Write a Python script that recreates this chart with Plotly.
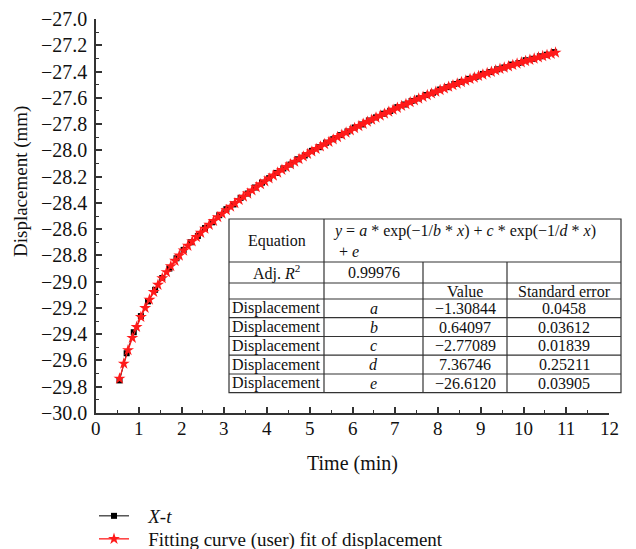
import plotly.graph_objects as go

# ---------------- data ----------------
t_data = [0.55, 0.717, 0.883, 1.05, 1.217, 1.383, 1.55, 1.717, 1.883, 2.05,
          2.217, 2.383, 2.55, 2.717, 2.883, 3.05, 3.217, 3.383, 3.55, 3.717,
          3.883, 4.05, 4.217, 4.383, 4.55, 4.717, 4.883, 5.05, 5.217, 5.383,
          5.55, 5.717, 5.883, 6.05, 6.217, 6.383, 6.55, 6.717, 6.883, 7.05,
          7.217, 7.383, 7.55, 7.717, 7.883, 8.05, 8.217, 8.383, 8.55, 8.717,
          8.883, 9.05, 9.217, 9.383, 9.55, 9.717, 9.883, 10.05, 10.217, 10.383,
          10.55, 10.717]
d_data = [-29.752, -29.545, -29.385, -29.262, -29.150, -29.062, -28.972, -28.900, -28.822, -28.758,
          -28.700, -28.652, -28.592, -28.548, -28.494, -28.448, -28.412, -28.362, -28.329, -28.283,
          -28.246, -28.212, -28.172, -28.138, -28.108, -28.068, -28.039, -28.004, -27.976, -27.942,
          -27.915, -27.884, -27.857, -27.826, -27.803, -27.773, -27.749, -27.721, -27.700, -27.671,
          -27.651, -27.624, -27.604, -27.579, -27.561, -27.537, -27.519, -27.495, -27.479, -27.456,
          -27.440, -27.418, -27.404, -27.383, -27.369, -27.347, -27.335, -27.314, -27.303, -27.284,
          -27.272, -27.252]

t_fit = [0.55, 0.65, 0.75, 0.85, 0.95, 1.05, 1.15, 1.25, 1.35, 1.45,
         1.55, 1.65, 1.75, 1.85, 1.95, 2.05, 2.15, 2.25, 2.35, 2.45,
         2.55, 2.65, 2.75, 2.85, 2.95, 3.05, 3.15, 3.25, 3.35, 3.45,
         3.55, 3.65, 3.75, 3.85, 3.95, 4.05, 4.15, 4.25, 4.35, 4.45,
         4.55, 4.65, 4.75, 4.85, 4.95, 5.05, 5.15, 5.25, 5.35, 5.45,
         5.55, 5.65, 5.75, 5.85, 5.95, 6.05, 6.15, 6.25, 6.35, 6.45,
         6.55, 6.65, 6.75, 6.85, 6.95, 7.05, 7.15, 7.25, 7.35, 7.45,
         7.55, 7.65, 7.75, 7.85, 7.95, 8.05, 8.15, 8.25, 8.35, 8.45,
         8.55, 8.65, 8.75, 8.85, 8.95, 9.05, 9.15, 9.25, 9.35, 9.45,
         9.55, 9.65, 9.75, 9.85, 9.95, 10.05, 10.15, 10.25, 10.35, 10.45,
         10.55, 10.65, 10.75]
d_fit = [-29.738, -29.624, -29.521, -29.428, -29.345, -29.269, -29.200, -29.137, -29.078, -29.024,
         -28.974, -28.927, -28.882, -28.841, -28.801, -28.763, -28.727, -28.693, -28.660, -28.628,
         -28.597, -28.567, -28.538, -28.509, -28.482, -28.455, -28.429, -28.403, -28.378, -28.353,
         -28.329, -28.305, -28.281, -28.258, -28.236, -28.214, -28.192, -28.170, -28.149, -28.128,
         -28.107, -28.087, -28.067, -28.047, -28.028, -28.009, -27.990, -27.971, -27.953, -27.935,
         -27.917, -27.899, -27.882, -27.865, -27.848, -27.831, -27.815, -27.798, -27.782, -27.767,
         -27.751, -27.736, -27.721, -27.706, -27.691, -27.676, -27.662, -27.648, -27.634, -27.620,
         -27.606, -27.593, -27.580, -27.567, -27.554, -27.541, -27.529, -27.516, -27.504, -27.492,
         -27.480, -27.469, -27.457, -27.446, -27.434, -27.423, -27.412, -27.402, -27.391, -27.380,
         -27.370, -27.360, -27.350, -27.340, -27.330, -27.320, -27.311, -27.301, -27.292, -27.283,
         -27.274, -27.265, -27.256]

# tick labels
x_ticks = [0, 1, 2, 3, 4, 5, 6, 7, 8, 9, 10, 11, 12]
y_ticks = [-30.0, -29.8, -29.6, -29.4, -29.2, -29.0, -28.8, -28.6, -28.4, -28.2,
           -28.0, -27.8, -27.6, -27.4, -27.2, -27.0]

# table contents
row_names = ["Displacement", "Displacement", "Displacement", "Displacement", "Displacement"]
param_names = ["a", "b", "c", "d", "e"]
param_values = ["\u22121.30844", "0.64097", "\u22122.77089", "7.36746", "\u221226.6120"]
param_errors = ["0.0458", "0.03612", "0.01839", "0.25211", "0.03905"]
adj_r2 = "0.99976"

x_title = "Time (min)"
y_title = "Displacement (mm)"
name_data = "<i>X-t</i>"
name_fit = "Fitting curve (user) fit of displacement"

# ---------------- layout geometry ----------------
W, H = 636, 549
PL, PR, PT, PB = 96, 609, 19, 413      # plot area in pixels
FONT = "Liberation Serif"
NB = "\u00a0\u00a0\u00a0"


def px(x):
    return (x - PL) / (PR - PL)


def py(y):
    return (PB - y) / (PB - PT)


fig = go.Figure()
fig.add_trace(go.Scatter(
    x=t_data, y=d_data, name=NB + name_data, mode="lines+markers",
    line=dict(color="black", width=1),
    marker=dict(symbol="square", size=6, color="black"),
    legend="legend",
))
fig.add_trace(go.Scatter(
    x=t_fit, y=d_fit, name=NB + name_fit, mode="lines+markers",
    line=dict(color="#ff1a1a", width=1.3),
    marker=dict(symbol="star", size=9, color="#ff1a1a", line=dict(width=0)),
    legend="legend2",
))

legend_common = dict(xanchor="left", yanchor="top",
                     font=dict(family=FONT, size=19, color="#111"),
                     bgcolor="rgba(0,0,0,0)", borderwidth=0)

fig.update_layout(
    width=W, height=H,
    font=dict(family=FONT, size=17, color="#111"),
    margin=dict(l=PL, r=W - PR, t=PT, b=H - PB, pad=0, autoexpand=False),
    paper_bgcolor="white", plot_bgcolor="white",
    showlegend=True,
    legend=dict(x=px(94), y=py(497), **legend_common),
    legend2=dict(x=px(94), y=py(520), **legend_common),
)
fig.update_xaxes(range=[0, 12], tickvals=x_ticks, showticklabels=False,
                 showline=True, linecolor="#333", linewidth=2, mirror=False,
                 ticks="inside", ticklen=6, tickwidth=1.5, tickcolor="#333",
                 showgrid=False, zeroline=False,
                 minor=dict(dtick=0.5, ticks="inside", ticklen=3, tickwidth=1.2, tickcolor="#333"))
fig.update_yaxes(range=[-30, -27], tickvals=y_ticks, showticklabels=False,
                 showline=True, linecolor="#333", linewidth=2, mirror=False,
                 ticks="inside", ticklen=6, tickwidth=1.5, tickcolor="#333",
                 showgrid=False, zeroline=False,
                 minor=dict(dtick=0.1, ticks="inside", ticklen=3, tickwidth=1.2, tickcolor="#333"))

# tick labels & axis titles as annotations positioned on the axes' scales
xlab_font = dict(family=FONT, size=19, color="#111")
ylab_font = dict(family=FONT, size=20, color="#111")
for v in x_ticks:
    fig.add_annotation(text=str(v), x=v, xref="x", y=py(429), yref="paper",
                       xanchor="center", yanchor="middle", showarrow=False, font=xlab_font)
for v in y_ticks:
    txt = ("\u2212" if v < 0 else "") + "%.1f" % abs(v)
    fig.add_annotation(text=txt, x=px(89), xref="paper", y=v, yref="y",
                       xanchor="right", yanchor="middle", showarrow=False, font=ylab_font)
fig.add_annotation(text=x_title, x=0.5, xref="paper", y=py(463), yref="paper",
                   xanchor="center", yanchor="middle", showarrow=False,
                   font=dict(family=FONT, size=20, color="#111"))
fig.add_annotation(text=y_title, x=px(21), xref="paper", y=py(182), yref="paper",
                   xanchor="center", yanchor="middle", showarrow=False, textangle=-90,
                   font=dict(family=FONT, size=19, color="#111"))

# ---------------- table (shapes + annotations) ----------------
xs = [229, 324, 423, 507, 621]
ys = [219, 262, 283, 299, 317.7, 336.5, 355.2, 374, 392.7]
line_style = dict(color="#333", width=1.2)
fig.add_shape(type="rect", xref="paper", yref="paper", x0=px(xs[0]), x1=px(xs[-1]),
              y0=py(ys[0]), y1=py(ys[-1]), fillcolor="white", line=line_style, layer="above")
for y in ys[1:-1]:
    fig.add_shape(type="line", xref="paper", yref="paper", x0=px(xs[0]), x1=px(xs[-1]),
                  y0=py(y), y1=py(y), line=line_style, layer="above")
fig.add_shape(type="line", xref="paper", yref="paper", x0=px(xs[1]), x1=px(xs[1]),
              y0=py(ys[0]), y1=py(ys[-1]), line=line_style, layer="above")
for x in xs[2:4]:
    fig.add_shape(type="line", xref="paper", yref="paper", x0=px(x), x1=px(x),
                  y0=py(ys[1]), y1=py(ys[-1]), line=line_style, layer="above")

tfont = dict(family=FONT, size=16, color="#111")


def cell(text, x, y, anchor="center"):
    fig.add_annotation(text=text, x=px(x), y=py(y), xref="paper", yref="paper",
                       xanchor=anchor, yanchor="middle", showarrow=False, font=tfont)


cx = [(xs[i] + xs[i + 1]) / 2 for i in range(4)]
cy = [(ys[i] + ys[i + 1]) / 2 for i in range(len(ys) - 1)]
cell("Equation", cx[0], cy[0])
cell("<i>y</i> = <i>a</i> * exp(\u22121/<i>b</i> * <i>x</i>) + <i>c</i> * exp(\u22121/<i>d</i> * <i>x</i>)",
     331, 231, "left")
cell("+ <i>e</i>", 337, 251, "left")
cell("Adj. <i>R</i><sup>2</sup>", cx[0], cy[1])
cell(adj_r2, cx[1], cy[1])
cell("Value", cx[2], cy[2])
cell("Standard error", cx[3], cy[2])
for i in range(5):
    cell(row_names[i], cx[0], cy[3 + i])
    cell("<i>" + param_names[i] + "</i>", cx[1], cy[3 + i])
    cell(param_values[i], cx[2], cy[3 + i])
    cell(param_errors[i], cx[3], cy[3 + i])

fig.write_html("out.html")
